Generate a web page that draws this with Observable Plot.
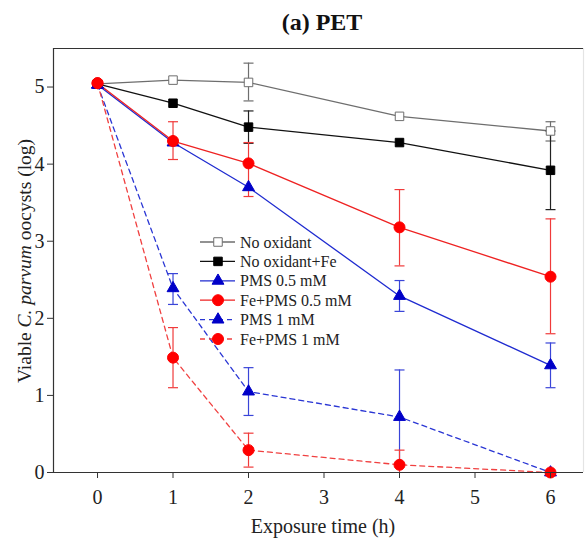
<!DOCTYPE html>
<html>
<head>
<meta charset="utf-8">
<script src="https://cdn.jsdelivr.net/npm/d3@7"></script>
<script src="https://cdn.jsdelivr.net/npm/@observablehq/plot@0.6"></script>
<style>
  html, body { margin: 0; padding: 0; background: #fff; }
  #chart svg { display: block; }
</style>
</head>
<body>
<div id="chart"></div>
<script>
// ---- data ----
const times = [0, 1, 2, 4, 6];
const xTicks = [0, 1, 2, 3, 4, 5, 6];
const yTicks = [0, 1, 2, 3, 4, 5];
const xDomain = [-0.583, 6.437];
const yDomain = [0, 5.5];
const seriesNames = ["No oxidant", "No oxidant+Fe", "PMS 0.5 mM", "Fe+PMS 0.5 mM", "PMS 1 mM", "Fe+PMS 1 mM"];

const noOxidant      = [5.04, 5.09, 5.06, 4.62, 4.43];
const noOxidantLo    = [null, null, 4.82, null, 4.30];
const noOxidantHi    = [null, null, 5.31, null, 4.55];

const noOxidantFe    = [5.04, 4.79, 4.48, 4.28, 3.92];
const noOxidantFeLo  = [null, null, 4.27, null, 3.41];
const noOxidantFeHi  = [null, null, 4.69, null, 4.43];

const pms05          = [5.03, 4.28, 3.70, 2.29, 1.39];
const pms05Lo        = [null, null, null, 2.09, 1.10];
const pms05Hi        = [null, null, null, 2.49, 1.68];

const fePms05        = [5.05, 4.30, 4.01, 3.18, 2.54];
const fePms05Lo      = [null, 4.06, 3.58, 2.68, 1.80];
const fePms05Hi      = [null, 4.55, 4.28, 3.67, 3.29];

const pms1           = [5.03, 2.39, 1.05, 0.72, 0.00];
const pms1Lo         = [null, 2.18, 0.74, 0.11, null];
const pms1Hi         = [null, 2.58, 1.36, 1.33, null];

const fePms1         = [5.05, 1.49, 0.29, 0.10, 0.00];
const fePms1Lo       = [null, 1.10, 0.07, 0.00, null];
const fePms1Hi       = [null, 1.88, 0.51, 0.29, null];

// ---- styles per series ----
const styles = [
  {line: "#6e6e6e", err: "#6e6e6e", fill: "#ffffff", stroke: "#6e6e6e", symbol: "square",   r: 4.8, dash: null},
  {line: "#111111", err: "#222222", fill: "#000000", stroke: "#000000", symbol: "square",   r: 4.8, dash: null},
  {line: "#1f2bd0", err: "#3a45d8", fill: "#0000c8", stroke: "#0000c8", symbol: "triangle", r: 4.4, dash: null},
  {line: "#ee2222", err: "#f03a3a", fill: "#ff0000", stroke: "#ff0000", symbol: "circle",   r: 5.5, dash: null},
  {line: "#2a36d4", err: "#3a45d8", fill: "#0000c8", stroke: "#0000c8", symbol: "triangle", r: 4.4, dash: "5,4"},
  {line: "#f04040", err: "#f03a3a", fill: "#ff0000", stroke: "#ff0000", symbol: "circle",   r: 5.5, dash: "5,4"}
];

const vals = [noOxidant, noOxidantFe, pms05, fePms05, pms1, fePms1];
const los  = [noOxidantLo, noOxidantFeLo, pms05Lo, fePms05Lo, pms1Lo, fePms1Lo];
const his  = [noOxidantHi, noOxidantFeHi, pms05Hi, fePms05Hi, pms1Hi, fePms1Hi];

const table = [];
vals.forEach((arr, s) => arr.forEach((v, i) => table.push({
  series: seriesNames[s], s, t: times[i], v, lo: los[s][i], hi: his[s][i]
})));
const errRows = table.filter(d => d.lo != null);

const capSymbol = {
  draw(context, size) {
    const w = 5;
    context.moveTo(-w, 0); context.lineTo(w, 0);
  }
};

const marks = [];
marks.push(Plot.ruleX([xDomain[1]], {stroke: "#e4e4e4", strokeWidth: 1.2}));
marks.push(Plot.ruleY([yDomain[1]], {stroke: "#333", strokeWidth: 1.2}));
styles.forEach((st, s) => {
  marks.push(Plot.line(table.filter(d => d.s === s), {
    x: "t", y: "v", stroke: st.line, strokeWidth: 1.3,
    strokeDasharray: st.dash ?? undefined
  }));
});
styles.forEach((st, s) => {
  const rows = errRows.filter(d => d.s === s);
  marks.push(Plot.ruleX(rows, {x: "t", y1: "lo", y2: "hi", stroke: st.err, strokeWidth: 1.2}));
  marks.push(Plot.dot(rows.filter(d => d.lo > 0.001), {x: "t", y: "lo", symbol: capSymbol, stroke: st.err, strokeWidth: 1.2}));
  marks.push(Plot.dot(rows, {x: "t", y: "hi", symbol: capSymbol, stroke: st.err, strokeWidth: 1.2}));
});
styles.forEach((st, s) => {
  marks.push(Plot.dot(table.filter(d => d.s === s), {
    x: "t", y: "v", symbol: st.symbol, r: st.r, fill: st.fill, stroke: st.stroke, strokeWidth: 1
  }));
});

const fmt = d3.format("d");
const font = "'Liberation Serif', 'Times New Roman', serif";
const plot = Plot.plot({
  width: 585,
  height: 540,
  marginLeft: 53,
  marginRight: 2,
  marginTop: 48,
  marginBottom: 68,
  style: {fontFamily: font, fontSize: "20px", color: "#222", background: "#fff"},
  x: {domain: xDomain, label: null},
  y: {domain: yDomain, label: null},
  marks: [
    ...marks,
    Plot.axisX({ticks: xTicks, tickFormat: fmt, tickSize: 6, tickPadding: 11, stroke: "#333", fill: "#222", fontSize: 20, label: null}),
    Plot.axisY({ticks: yTicks, tickFormat: fmt, tickSize: 6, tickPadding: 3, stroke: "#333", fill: "#222", fontSize: 20, label: null}),
    Plot.ruleX([xDomain[0]], {stroke: "#333", strokeWidth: 1.2}),
    Plot.ruleY([yDomain[0]], {stroke: "#333", strokeWidth: 1.2})
  ]
});

const svg = d3.select(plot);

svg.append("text")
  .attr("x", 322).attr("y", 30)
  .attr("text-anchor", "middle")
  .attr("font-family", font).attr("font-weight", "bold").attr("font-size", 24)
  .attr("fill", "#111")
  .text("(a) PET");

svg.append("text")
  .attr("x", 323).attr("y", 533)
  .attr("text-anchor", "middle")
  .attr("font-family", font).attr("font-size", 20).attr("fill", "#222")
  .text("Exposure time (h)");

const yl = svg.append("text")
  .attr("transform", "translate(31,261) rotate(-90)")
  .attr("text-anchor", "middle")
  .attr("font-family", font).attr("font-size", 19.5).attr("fill", "#222");
yl.append("tspan").text("Viable ");
yl.append("tspan").attr("font-style", "italic").text("C. parvum");
yl.append("tspan").text(" oocysts (log)");

const leg = svg.append("g").attr("text-anchor", "start");
const lx0 = 200, lx1 = 235, lmx = 218, ltx = 240, ly0 = 242, lstep = 19.4;
styles.forEach((st, s) => {
  const y = ly0 + s * lstep;
  leg.append("line")
    .attr("x1", lx0).attr("x2", lx1).attr("y1", y).attr("y2", y)
    .attr("stroke", st.line).attr("stroke-width", 1.3)
    .attr("stroke-dasharray", st.dash);
  const sym = st.symbol === "square" ? d3.symbolSquare : st.symbol === "triangle" ? d3.symbolTriangle : d3.symbolCircle;
  leg.append("path")
    .attr("transform", `translate(${lmx},${y})`)
    .attr("d", d3.symbol(sym, Math.PI * st.r * st.r)())
    .attr("fill", st.fill).attr("stroke", st.stroke);
  leg.append("text")
    .attr("x", ltx).attr("y", y).attr("dy", "0.35em")
    .attr("text-anchor", "start")
    .attr("font-family", font).attr("font-size", 16).attr("fill", "#222")
    .text(seriesNames[s]);
});

document.getElementById("chart").append(plot);
</script>
</body>
</html>
